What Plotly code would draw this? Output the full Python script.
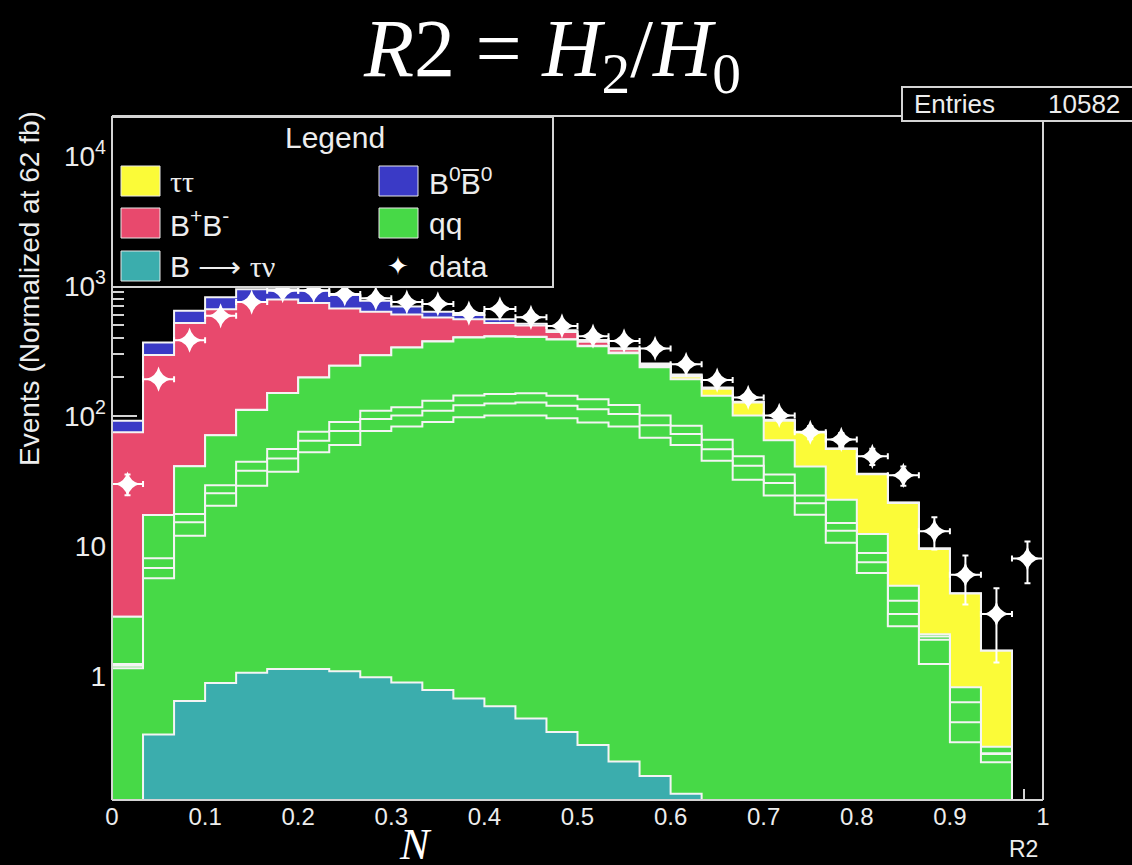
import numpy as np
import plotly.graph_objects as go

# ---------------------------------------------------------------------------
# R2 distribution: 30 bins between 0 and 1
# ---------------------------------------------------------------------------
N_BINS = 30
BIN_EDGES = np.linspace(0.0, 1.0, N_BINS + 1)

# Monte Carlo components (events per bin, normalised luminosity)
b_to_taunu = [0, 0.354, 0.642, 0.884, 1.06, 1.13, 1.13, 1.09, 0.98, 0.89,
              0.78, 0.67, 0.585, 0.47, 0.37, 0.295, 0.22, 0.17, 0.124, 0.1,
              0.08, 0.07, 0.05, 0.04, 0.03, 0.02, 0.01, 0, 0, 0]
qq_uubar = [1.146, 5.29, 11.36, 19.5, 28.0, 36.2, 51.5, 58.7, 75.8, 82.1,
            89.3, 97.2, 100.4, 100.5, 95.9, 88.9, 82.8, 67.8, 59.7, 45.2,
            32.2, 24.4, 17.35, 10.56, 6.16, 2.39, 1.227, 0.309, 0.217, 0]
qq_ddbar = [0.054, 1.13, 3.2, 5.1, 8.9, 9.8, 11.9, 17.0, 18.0, 17.8,
            19.5, 23.1, 24.0, 26.0, 23.7, 23.5, 20.5, 17.1, 13.0, 10.1,
            9.2, 6.0, 3.9, 2.5, 1.31, 0.59, 0.66, 0.131, 0.034, 0]
qq_ssbar = [0.037, 1.27, 2.4, 3.9, 6.5, 8.6, 11.0, 13.3, 14.8, 15.9,
            21.5, 23.0, 23.0, 23.0, 23.0, 22.0, 17.9, 15.7, 11.2, 10.2,
            7.5, 5.0, 3.2, 1.9, 1.33, 0.8, 0.12, 0.188, 0.003, 0]
qq_ccbar = [1.62, 9.26, 23.4, 41.6, 67.0, 94.3, 122.5, 153, 184, 220,
            244, 258, 261, 256, 245, 210, 182.6, 136, 108, 77.4,
            51.8, 29.6, 16.4, 7.7, 3.52, 1.15, 0.08, 0.19, 0.032, 0]
tautau = [0, 0, 0, 0.05, 0.1, 0.15, 0.2, 0.3, 0.4, 0.5,
          0.7, 0.9, 1.1, 1.5, 2.0, 3.0, 4.0, 6.0, 9.0, 19.0,
          26.0, 27.0, 34.0, 33.0, 23.3, 16.5, 7.4, 3.5, 1.28, 0]
b_charged = [72.1, 277.7, 479, 592, 643, 636, 543, 429, 340, 267,
             196, 152, 110, 89.5, 53, 25, 18, 7, 5, 2,
             1.2, 0.8, 0.5, 0.3, 0.2, 0.1, 0.05, 0, 0, 0]
b_neutral = [16.8, 73, 126, 155, 188, 157, 188, 180, 138, 92,
             63, 45, 36, 16, 14, 12, 6, 4, 3, 1.5,
             1.0, 0.6, 0.4, 0.2, 0.1, 0.05, 0, 0, 0, 0]

# Observed events per bin
data_counts = [30, 192, 383, 590, 753, 920, 920, 870, 805, 753,
               728, 619, 667, 574, 493, 411, 378, 331, 250, 189,
               139, 101, 75, 66, 49, 35, 13, 6, 3, 8]
ENTRIES = 10582

# Axis labels
x_tick_vals = [0.0, 0.1, 0.2, 0.3, 0.4, 0.5, 0.6, 0.7, 0.8, 0.9, 1.0]
x_tick_text = ["0", "0.1", "0.2", "0.3", "0.4", "0.5", "0.6", "0.7", "0.8", "0.9", "1"]
y_tick_vals = [1, 10, 100, 1000, 10000]
y_tick_text = ["1", "10", "10<sup>2</sup>", "10<sup>3</sup>", "10<sup>4</sup>"]

# Stack order, bottom to top
STACK = [
    (b_to_taunu, "#3badad"),
    (qq_uubar, "#47d947"),
    (qq_ddbar, "#47d947"),
    (qq_ssbar, "#47d947"),
    (qq_ccbar, "#47d947"),
    (tautau, "#fbfb38"),
    (b_charged, "#e8496d"),
    (b_neutral, "#3a3ac6"),
]

Y_LOG_MIN, Y_LOG_MAX = -0.954, 4.308
FLOOR = 10 ** Y_LOG_MIN

SANS = "Liberation Sans, Arial, sans-serif"
SERIF = "Liberation Serif, Times New Roman, serif"
GREEK = '<span style="font-family:Liberation Serif">{}</span>'
FG = "#ededed"
FRAME = "#d4d4d4"

# Plot area in pixels (for shapes/annotations outside the data frame)
PX_L, PX_R, PX_T, PX_B = 112, 1043, 116, 800


def px(x):
    return (x - PX_L) / (PX_R - PX_L)


def py(y):
    return (PX_B - y) / (PX_B - PX_T)


def step_outline(values):
    """Closed step outline of a histogram, from the axis floor up."""
    xs, ys = [BIN_EDGES[0]], [FLOOR]
    for i, v in enumerate(values):
        v = max(float(v), FLOOR)
        xs += [BIN_EDGES[i], BIN_EDGES[i + 1]]
        ys += [v, v]
    xs.append(BIN_EDGES[-1])
    ys.append(FLOOR)
    return xs, ys


fig = go.Figure()

cumulative = np.cumsum(np.array([s[0] for s in STACK], dtype=float), axis=0)
# draw the tallest cumulative histogram first, as a stacked plot does
for k in reversed(range(len(STACK))):
    xs, ys = step_outline(cumulative[k])
    fig.add_trace(go.Scatter(
        x=xs, y=ys, mode="lines", fill="toself",
        fillcolor=STACK[k][1],
        line=dict(color="#f4f4f4", width=2),
        hoverinfo="skip", showlegend=False,
    ))

centers = 0.5 * (BIN_EDGES[:-1] + BIN_EDGES[1:])
counts = np.array(data_counts, dtype=float)
fig.add_trace(go.Scatter(
    x=centers, y=counts, mode="markers",
    marker=dict(symbol="star-diamond", size=18, color="white",
                line=dict(width=0)),
    error_x=dict(type="constant", value=0.5 / N_BINS, color="white",
                 thickness=2, width=3),
    error_y=dict(type="data", array=np.sqrt(counts), color="white",
                 thickness=2, width=3),
    showlegend=False,
))

minor_y = [m * 10.0 ** d for d in range(-1, 5) for m in range(2, 10)
           if Y_LOG_MIN < np.log10(m * 10.0 ** d) < Y_LOG_MAX]

fig.update_xaxes(
    range=[0, 1], showgrid=False, zeroline=False, showline=False,
    tickmode="array", tickvals=x_tick_vals, ticktext=x_tick_text,
    ticks="inside", ticklen=22, tickwidth=1.5, tickcolor=FRAME,
    minor=dict(dtick=0.02, tick0=0, ticks="inside", ticklen=11,
               tickwidth=1.5, tickcolor=FRAME),
    tickfont=dict(family=SANS, size=24, color=FG),
    layer="below traces",
)
fig.update_yaxes(
    type="log", range=[Y_LOG_MIN, Y_LOG_MAX], showgrid=False,
    zeroline=False, showline=False,
    tickmode="array", tickvals=y_tick_vals, ticktext=y_tick_text,
    ticks="inside", ticklen=25, tickwidth=1.5, tickcolor=FRAME,
    minor=dict(tickmode="array", tickvals=minor_y, ticks="inside",
               ticklen=12, tickwidth=1.5, tickcolor=FRAME),
    tickfont=dict(family=SANS, size=28, color=FG),
    ticklabelstandoff=5,
    layer="below traces",
)

shapes = []
# plot frame
for x0, y0, x1, y1 in [(PX_L, PX_T, PX_L, PX_B), (PX_L, PX_B, PX_R, PX_B),
                       (PX_R, PX_T, PX_R, PX_B), (PX_L, PX_T, PX_R, PX_T)]:
    shapes.append(dict(type="line", xref="paper", yref="paper",
                       x0=px(x0), y0=py(y0), x1=px(x1), y1=py(y1),
                       line=dict(color=FRAME, width=2), layer="above"))

# statistics box
shapes.append(dict(type="rect", xref="paper", yref="paper",
                   x0=px(902), x1=px(1150), y0=py(121), y1=py(87),
                   fillcolor="black", line=dict(color=FRAME, width=2),
                   layer="above"))

# legend box
shapes.append(dict(type="rect", xref="paper", yref="paper",
                   x0=px(112), x1=px(553), y0=py(287), y1=py(117),
                   fillcolor="black", line=dict(color=FRAME, width=2),
                   layer="above"))

legend_rows = [181, 223, 266]
legend_entries = [
    (0, 0, "#fbfb38", GREEK.format("\u03c4\u03c4")),
    (0, 1, "#e8496d", "B<sup>+</sup>B<sup>-</sup>"),
    (0, 2, "#3badad", "B \u27f6 " + GREEK.format("\u03c4\u03bd")),
    (1, 0, "#3a3ac6", "B<sup>0</sup>B\u0305<sup>0</sup>"),
    (1, 1, "#47d947", "qq"),
]
col_box = [(121, 160), (379, 418)]
col_text = [168, 427]

annotations = []
for col, row, color, label in legend_entries:
    yc = legend_rows[row]
    shapes.append(dict(type="rect", xref="paper", yref="paper",
                       x0=px(col_box[col][0]), x1=px(col_box[col][1]),
                       y0=py(yc + 15), y1=py(yc - 15),
                       fillcolor=color, line=dict(color="#e8e8e8", width=1),
                       layer="above"))
    annotations.append(dict(xref="paper", yref="paper",
                            x=px(col_text[col]), y=py(yc),
                            xanchor="left", yanchor="middle", showarrow=False,
                            text=label, font=dict(family=SANS, size=30, color=FG)))

# data entry of the legend
annotations.append(dict(xref="paper", yref="paper", x=px(398), y=py(266),
                        xanchor="center", yanchor="middle", showarrow=False,
                        text="\u2726", font=dict(family="DejaVu Sans", size=26,
                                                 color="white")))
annotations.append(dict(xref="paper", yref="paper", x=px(427), y=py(266),
                        xanchor="left", yanchor="middle", showarrow=False,
                        text="data", font=dict(family=SANS, size=30, color=FG)))
annotations.append(dict(xref="paper", yref="paper", x=px(335), y=py(137),
                        xanchor="center", yanchor="middle", showarrow=False,
                        text="Legend", font=dict(family=SANS, size=30, color=FG)))

# statistics text
annotations.append(dict(xref="paper", yref="paper", x=px(912), y=py(104),
                        xanchor="left", yanchor="middle", showarrow=False,
                        text="Entries", font=dict(family=SANS, size=26, color=FG)))
annotations.append(dict(xref="paper", yref="paper", x=px(1122), y=py(104),
                        xanchor="right", yanchor="middle", showarrow=False,
                        text=f"{ENTRIES}", font=dict(family=SANS, size=26, color=FG)))

# axis titles
annotations.append(dict(xref="paper", yref="paper", x=px(29), y=py(289),
                        xanchor="center", yanchor="middle", showarrow=False,
                        textangle=-90,
                        text="Events (Normalized at 62 fb)",
                        font=dict(family=SANS, size=28, color=FG)))
annotations.append(dict(xref="paper", yref="paper", x=px(1040), y=py(849),
                        xanchor="right", yanchor="middle", showarrow=False,
                        text="R2", font=dict(family=SANS, size=23, color=FG)))

# headline formula and the symbol below the axis
annotations.append(dict(xref="paper", yref="paper", x=px(552), y=py(1),
                        xanchor="center", yanchor="top", showarrow=False,
                        text="<i>R</i>2 = <i>H</i><sub>2</sub>/<i>H</i><sub>0</sub>",
                        font=dict(family=SERIF, size=82, color="white")))
annotations.append(dict(xref="paper", yref="paper", x=px(415), y=py(871),
                        xanchor="center", yanchor="bottom", showarrow=False,
                        text="<i>N</i>",
                        font=dict(family=SERIF, size=44, color="white")))

fig.update_layout(
    width=1132, height=865,
    margin=dict(l=PX_L, r=1132 - PX_R, t=PX_T, b=865 - PX_B),
    paper_bgcolor="black", plot_bgcolor="black",
    showlegend=False,
    shapes=shapes, annotations=annotations,
)

fig.write_html("out.html")
